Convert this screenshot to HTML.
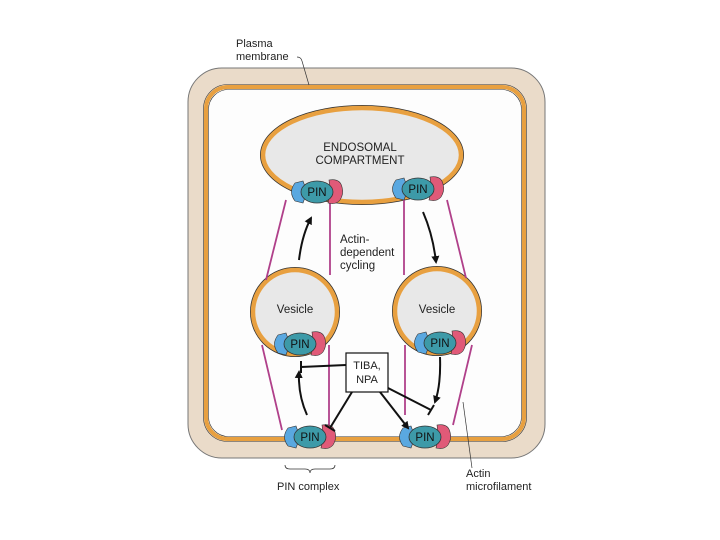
<!DOCTYPE html>
<html><head><meta charset="utf-8"><style>
html,body{margin:0;padding:0;background:#fff;width:720px;height:540px;overflow:hidden}
text{font-family:"Liberation Sans",sans-serif;fill:#222}
</style></head><body>
<svg width="720" height="540" viewBox="0 0 720 540" xmlns="http://www.w3.org/2000/svg">
<defs>
<marker id="ah" markerWidth="8" markerHeight="8" refX="6" refY="4" orient="auto" markerUnits="userSpaceOnUse"><path d="M0,0 L8,4 L0,8 Z" fill="#111"/></marker>
<g id="pin">
<path d="M-22,-9 q-7,9 0,18 l8,2 l4,-11 l-4,-11 z" fill="#5aa8e0" stroke="#333" stroke-width="0.6"/>
<path d="M12,-12 q11,-2 13,7 q2,7 -2,13 q-4,5 -12,3 q3,-11 1,-23 z" fill="#e05a78" stroke="#333" stroke-width="0.6"/>
<ellipse cx="0" cy="0" rx="16" ry="11" fill="#3d9aa8" stroke="#333" stroke-width="0.8"/>
<text x="0" y="4" text-anchor="middle" font-size="11.5" style="fill:#111">PIN</text>
</g>
</defs>
<rect x="188" y="68" width="357" height="390" rx="34" fill="#eadbc9" stroke="#777" stroke-width="1"/>
<rect x="206" y="87" width="318" height="352" rx="22" fill="#fdfdfd" stroke="#e8a040" stroke-width="4"/>
<rect x="203.5" y="84.5" width="323" height="357" rx="24" fill="none" stroke="#333" stroke-width="0.6"/>
<rect x="208.5" y="89.5" width="313" height="347" rx="20" fill="none" stroke="#333" stroke-width="0.6"/>
<ellipse cx="362" cy="155" rx="99" ry="47" fill="#e8e8e8" stroke="#333" stroke-width="6"/>
<ellipse cx="362" cy="155" rx="99" ry="47" fill="#e8e8e8" stroke="#e8a040" stroke-width="4.5"/>
<text x="360" y="151" text-anchor="middle" font-size="11.5">ENDOSOMAL</text>
<text x="360" y="164" text-anchor="middle" font-size="11.5">COMPARTMENT</text>
<circle cx="295" cy="312" r="42" fill="#e8e8e8" stroke="#333" stroke-width="6"/>
<circle cx="295" cy="312" r="42" fill="#e8e8e8" stroke="#e8a040" stroke-width="4.5"/>
<circle cx="437" cy="311" r="42" fill="#e8e8e8" stroke="#333" stroke-width="6"/>
<circle cx="437" cy="311" r="42" fill="#e8e8e8" stroke="#e8a040" stroke-width="4.5"/>
<text x="295" y="313" text-anchor="middle" font-size="11.5">Vesicle</text>
<text x="437" y="313" text-anchor="middle" font-size="11.5">Vesicle</text>
<g stroke="#b0408a" stroke-width="1.8" fill="none">
<line x1="286" y1="200" x2="266" y2="280"/>
<line x1="330" y1="200" x2="330" y2="275"/>
<line x1="404" y1="200" x2="404" y2="275"/>
<line x1="447" y1="200" x2="466" y2="278"/>
<line x1="262" y1="345" x2="282" y2="430"/>
<line x1="329" y1="345" x2="329" y2="428"/>
<line x1="405" y1="345" x2="405" y2="415"/>
<line x1="472" y1="345" x2="453" y2="425"/>
</g>
<use href="#pin" x="317" y="192"/>
<use href="#pin" x="418" y="189"/>
<use href="#pin" x="300" y="344"/>
<use href="#pin" x="440" y="343"/>
<use href="#pin" x="310" y="437"/>
<use href="#pin" x="425" y="437"/>
<g stroke="#111" stroke-width="2" fill="none">
<path d="M299,260 Q302,235 311,218" marker-end="url(#ah)"/>
<path d="M423,212 Q433,235 436,262" marker-end="url(#ah)"/>
<path d="M307,415 Q298,395 299,372" marker-end="url(#ah)"/>
<path d="M440,357 Q441,385 435,402" marker-end="url(#ah)"/>
<path d="M346,365 L301,367"/><path d="M301,361 L301,373"/>
<path d="M352,392 L330,428"/><path d="M325,425 L335,431"/>
<path d="M380,392 L408,428" marker-end="url(#ah)"/>
<path d="M388,388 L431,410"/><path d="M428,415 L434,405"/>
</g>
<rect x="346" y="353" width="42" height="39" fill="#fff" stroke="#111" stroke-width="1.2"/>
<text x="367" y="369" text-anchor="middle" font-size="11">TIBA,</text>
<text x="367" y="383" text-anchor="middle" font-size="11">NPA</text>
<text x="340" y="243" font-size="11.5">Actin-</text>
<text x="340" y="256" font-size="11.5">dependent</text>
<text x="340" y="269" font-size="11.5">cycling</text>
<text x="236" y="47" font-size="11">Plasma</text>
<text x="236" y="60" font-size="11">membrane</text>
<path d="M297,57 q4,0 5,4 L309,85" stroke="#333" stroke-width="0.7" fill="none"/>
<path d="M285,465 q0,4 5,4 l15,0 q5,0 5,4 q0,-4 5,-4 l15,0 q5,0 5,-4" stroke="#333" stroke-width="0.8" fill="none"/>
<text x="277" y="490" font-size="11">PIN complex</text>
<path d="M463,402 L472,468" stroke="#333" stroke-width="0.7"/>
<text x="466" y="477" font-size="11">Actin</text>
<text x="466" y="490" font-size="11">microfilament</text>
</svg>
</body></html>
